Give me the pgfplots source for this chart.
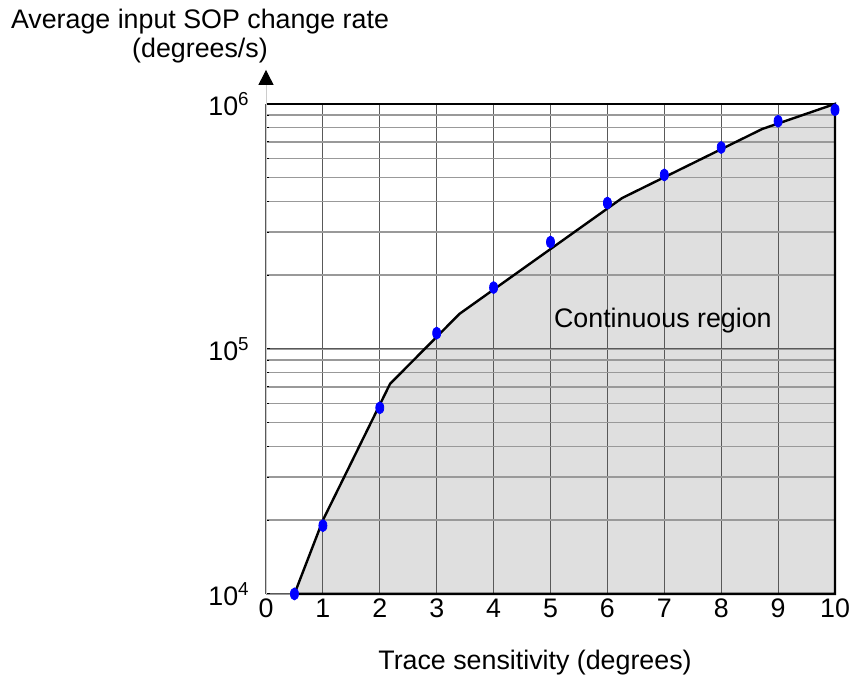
\documentclass[border=0pt]{standalone}
\usepackage{pgfplots}
\pgfplotsset{compat=1.18}
\usepackage{fontspec}
\setmainfont{Liberation Sans}
\usetikzlibrary{arrows.meta}
\begin{document}
\fontsize{13.4bp}{16bp}\selectfont
\begin{tikzpicture}
\begin{axis}[
  at={(0,0)}, anchor=south west,
  scale only axis, width=284.5bp, height=245bp,
  set layers,
  clip=false,
  xmin=0, xmax=10,
  ymode=log, ymin=1e4, ymax=1e6,
  axis line style={draw=none},
  xtick={0,1,...,10},
  ytick={1e4,1e5,1e6},
  yticklabels={10\textsuperscript{4},10\textsuperscript{5},10\textsuperscript{6}},
  /pgf/number format/assume math mode=true,
  tick label style={font=\fontsize{13.4bp}{16bp}\selectfont},
  xticklabel style={yshift=2bp},
  yticklabel style={xshift=-3.5bp},
  xtick style={draw=none},
  ytick pos=left, tick align=inside,
  ytick style={black, line width=0.5bp},
  major tick length=2bp, minor tick length=1.5bp,
  xmajorgrids, ymajorgrids, yminorgrids,
  major grid style={black!65, line width=0.55bp},
  minor grid style={black!40, line width=0.7bp},
]
\addplot[fill=gray!25, draw=none, on layer=axis background] coordinates {
  (0.5,1e4) (1,2.0e4) (2.18,7.2e4) (3.4,1.39e5) (6.26,4.13e5) (8.72,7.9e5) (10,1e6) (10,1e4) (0.5,1e4)};
\addplot[black, line width=1.2bp, line join=miter] coordinates {
  (0.5,1e4) (1,2.0e4) (2.18,7.2e4) (3.4,1.39e5) (6.26,4.13e5) (8.72,7.9e5) (10,1e6) (10,1e4) (0.5,1e4)};
\addplot[only marks, mark=*, mark size=3bp, mark options={xscale=0.67, fill=blue, draw=blue}] coordinates {
  (0.5,1e4) (1,1.9e4) (2,5.75e4) (3,1.16e5) (4,1.78e5) (5,2.73e5) (6,3.94e5) (7,5.13e5) (8,6.64e5) (9,8.5e5) (10,9.46e5)};
\draw[black, line width=1.2bp] (axis cs:0,1e6) -- (axis cs:10,1e6);
\draw[black!20, line width=0.5bp] (axis cs:0,1e4) -- (axis cs:0,1e6);
\draw[black!20, line width=0.5bp, -{Triangle[black, length=7.5bp, width=7.5bp]}] (axis cs:0,1e6) -- ([yshift=17bp]axis cs:0,1e6);
\node[anchor=base west, font=\fontsize{13.4bp}{16bp}\selectfont] at (axis cs:4.9,1.22e5) {Continuous region};
\end{axis}
\node[align=center, font=\fontsize{13.4bp}{14.5bp}\selectfont] at (-33bp,279bp) {Average input SOP change rate\\(degrees/s)};
\node[font=\fontsize{13.4bp}{16bp}\selectfont] at (134.5bp,-34.5bp) {Trace sensitivity (degrees)};
\path (-133bp,-46.5bp) rectangle (297bp,296.5bp);
\end{tikzpicture}
\end{document}
